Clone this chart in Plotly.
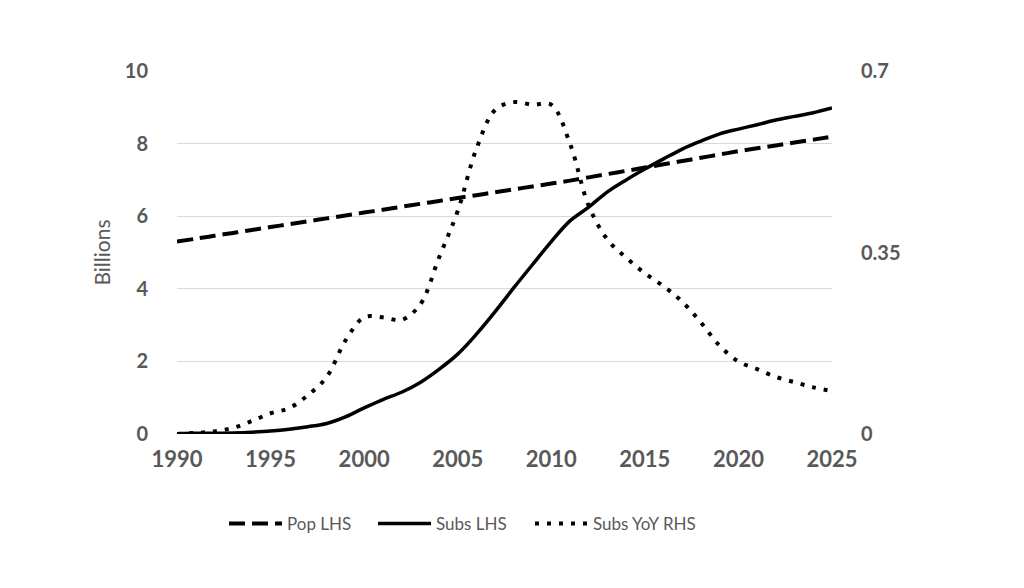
import plotly.graph_objects as go

years = list(range(1990, 2026))

pop_lhs = [5.30, 5.38, 5.46, 5.54, 5.62, 5.70, 5.78, 5.86, 5.94, 6.02,
           6.10, 6.18, 6.26, 6.34, 6.42, 6.50, 6.58, 6.66, 6.74, 6.82,
           6.90, 6.98, 7.07, 7.16, 7.25, 7.34, 7.43, 7.52, 7.61, 7.70,
           7.79, 7.87, 7.95, 8.03, 8.11, 8.19]

subs_lhs = [0.01, 0.02, 0.02, 0.03, 0.05, 0.08, 0.13, 0.20, 0.29, 0.47,
            0.72, 0.95, 1.15, 1.42, 1.78, 2.20, 2.75, 3.37, 4.03, 4.67,
            5.30, 5.87, 6.25, 6.67, 7.00, 7.30, 7.58, 7.85, 8.07, 8.27,
            8.40, 8.52, 8.65, 8.75, 8.85, 8.98]

subs_yoy_rhs = [0.0, 0.002, 0.005, 0.012, 0.025, 0.040, 0.050, 0.075, 0.110, 0.180,
                0.225, 0.225, 0.220, 0.250, 0.340, 0.430, 0.550, 0.625, 0.640, 0.635,
                0.635, 0.560, 0.440, 0.375, 0.340, 0.310, 0.285, 0.255, 0.215, 0.170,
                0.140, 0.125, 0.110, 0.100, 0.090, 0.083]

left_ticks = [0, 2, 4, 6, 8, 10]
right_ticks = [0, 0.35, 0.7]
x_ticks = list(range(1990, 2026, 5))

grey = "#595959"
fnt = "Lato"

fig = go.Figure()
fig.add_trace(go.Scatter(x=years, y=pop_lhs, name="Pop LHS", mode="lines", legend="legend",
                         line=dict(color="black", width=4, dash="16px,7px", shape="spline")))
fig.add_trace(go.Scatter(x=years, y=subs_lhs, name="Subs LHS", mode="lines", legend="legend2",
                         line=dict(color="black", width=3.5, shape="spline")))
fig.add_trace(go.Scatter(x=years, y=subs_yoy_rhs, name="Subs YoY RHS", mode="lines",
                         yaxis="y2", legend="legend3",
                         line=dict(color="black", width=4, dash="4px,8px", shape="spline")))

def leg(xpos):
    return dict(orientation="h", x=xpos, xanchor="left", y=-0.248, yanchor="middle",
                font=dict(family=fnt, size=17, color=grey), itemwidth=53,
                bgcolor="rgba(0,0,0,0)")

fig.update_layout(
    width=1024, height=588,
    margin=dict(l=169, r=200, t=63, b=162),
    plot_bgcolor="white", paper_bgcolor="white",
    font=dict(family=fnt, color=grey),
    xaxis=dict(range=[1990, 2025], tickvals=x_ticks, ticktext=[str(v) for v in x_ticks],
               showgrid=False, zeroline=False, showline=False,
               tickfont=dict(family=fnt, size=22, color=grey, weight="bold"),
               ticks="", ticklabelstandoff=10),
    yaxis=dict(range=[0, 10], tickvals=left_ticks, showgrid=True, gridcolor="#d9d9d9",
               gridwidth=1, zeroline=False, showline=False, ticks="",
               tickfont=dict(family=fnt, size=20, color=grey, weight="bold"),
               title=dict(text="Billions", font=dict(family=fnt, size=21, color=grey), standoff=8),
               ticklabelstandoff=28),
    yaxis2=dict(range=[0, 0.7], tickvals=right_ticks, ticktext=["0", "0.35", "0.7"],
                overlaying="y", side="right", showgrid=False, zeroline=False,
                showline=False, ticks="",
                tickfont=dict(family=fnt, size=20, color=grey, weight="bold"),
                ticklabelstandoff=28),
    legend=leg((228 - 169 - 12) / 655),
    legend2=leg((377 - 169 - 12) / 655),
    legend3=leg((533 - 169 - 11) / 655),
    showlegend=True,
)

fig.write_html("out.html")
